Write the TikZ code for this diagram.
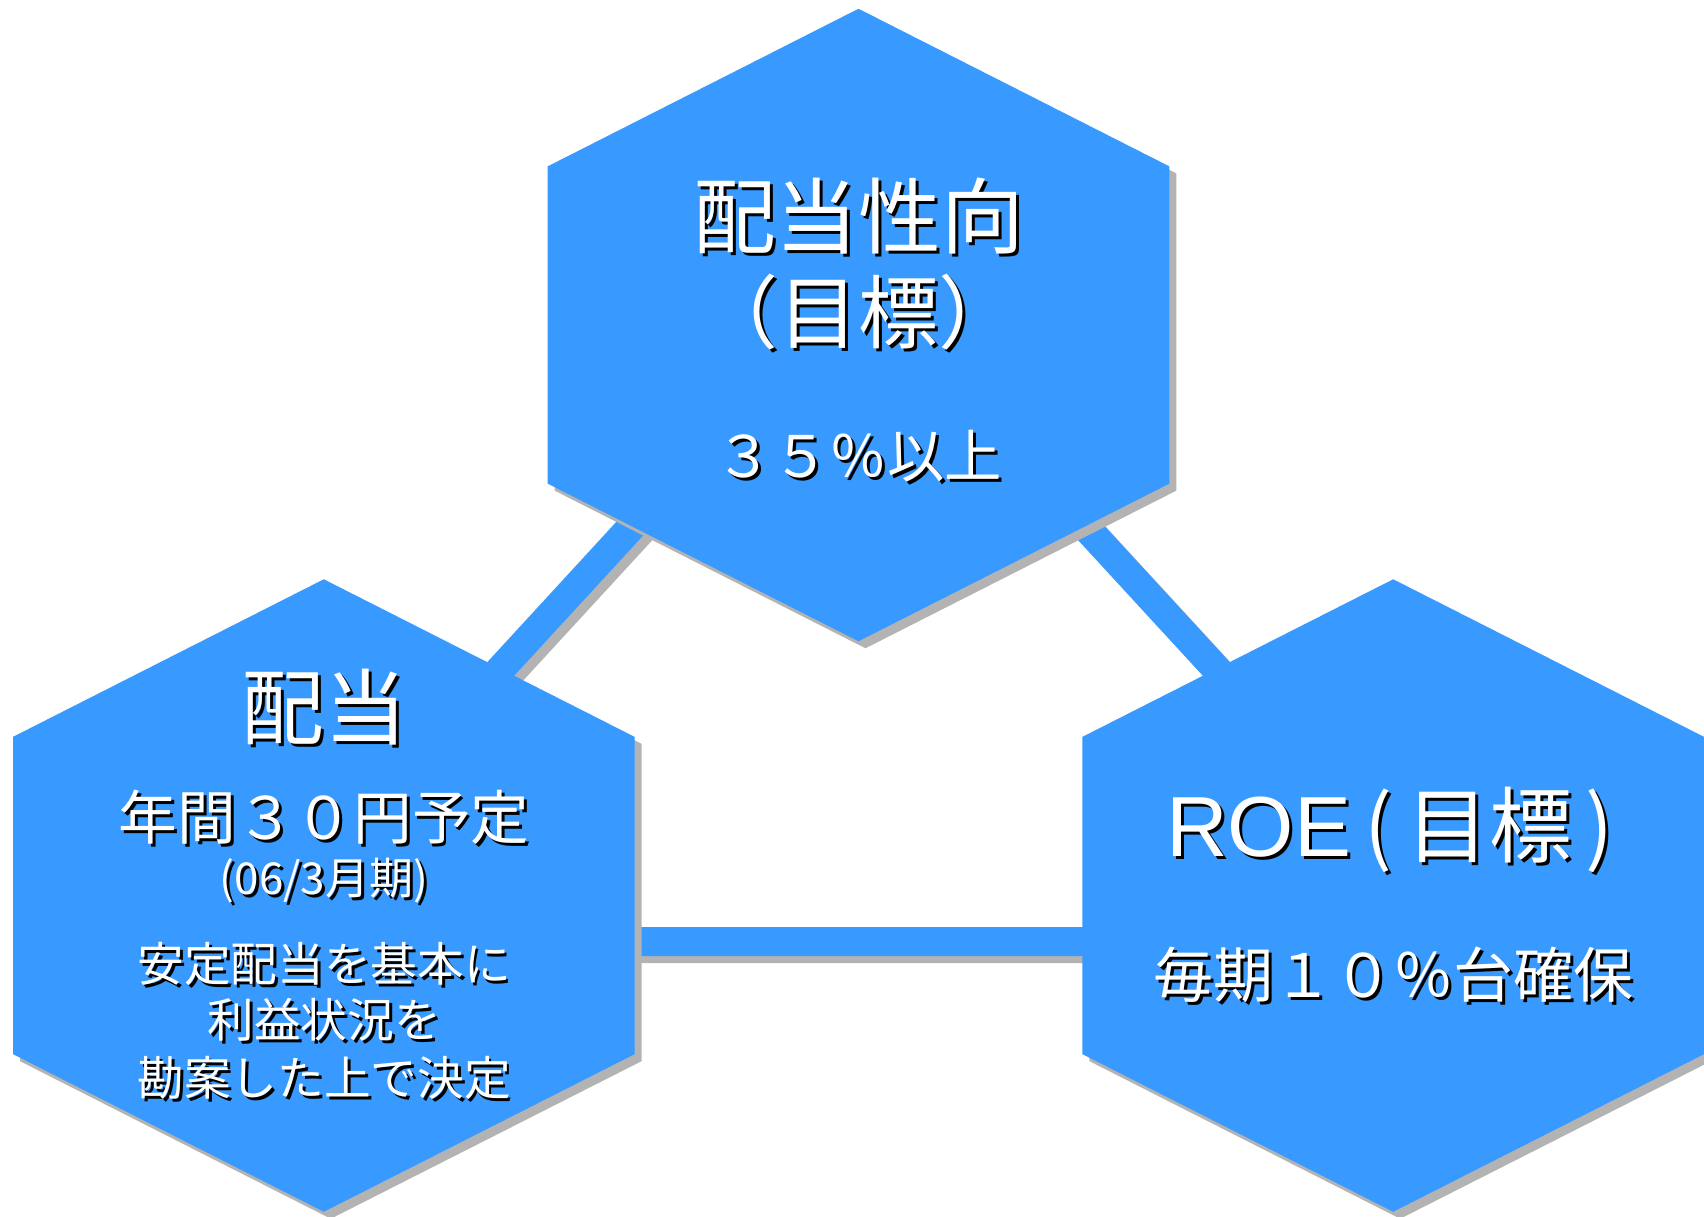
\documentclass[tikz,border=0pt]{standalone}
\usepackage{fontspec}
\setmainfont{Noto Sans CJK JP}
\newfontfamily\roefont{Liberation Sans}
\usetikzlibrary{calc}
\definecolor{hexblue}{HTML}{3899FF}
\definecolor{shgray}{HTML}{B3B3B3}
\tikzset{
  hexfill/.style={fill=hexblue, draw=none},
  hexshadow/.style={fill=shgray, draw=none},
  bar/.style={line width=21.75pt, draw=hexblue},
  barshadow/.style={line width=21.75pt, draw=shgray},
  txt/.style={text=white, inner sep=0pt, anchor=center},
  txtsh/.style={text=black, inner sep=0pt, anchor=center, xshift=2.25pt, yshift=-2.25pt},
  fs/.style={font=\fontsize{#1}{#1}\selectfont},
}
\newcommand\hexpath[2]{(#1,#2-316.25) -- (#1+310.8,#2-158.65) -- (#1+310.8,#2+158.65) -- (#1,#2+316.25) -- (#1-310.8,#2+158.65) -- (#1-310.8,#2-158.65) -- cycle}
\newcommand\stxt[5]{%
  \node[txtsh, fs=#4] (#1sh) at (#2,#3) {#5};
  \node[txt, fs=#4] (#1) at (#2,#3) {#5};}
\begin{document}
\begin{tikzpicture}[x=0.75pt, y=-0.75pt]
\useasboundingbox (0,0) rectangle (1704,1217);
% centres of the hexagons
\coordinate (topc) at (858.5,325);
\coordinate (leftc) at (323.8,895.5);
\coordinate (rightc) at (1393.2,895.5);
% triangle corners of the connecting bars
\coordinate (tv) at (858.5,280);
\coordinate (lv) at (250,941.5);
\coordinate (rv) at (1467,941.5);
% bars
\draw[barshadow] ([shift={(7,7)}]lv) -- ([shift={(7,7)}]tv) -- ([shift={(7,7)}]rv) -- cycle;
\draw[bar] (lv) -- (tv) -- (rv) -- cycle;
% hexagon shadows
\fill[hexshadow, shift={(7,7)}] \hexpath{858.5}{325};
\fill[hexshadow, shift={(7,7)}] \hexpath{323.8}{895.5};
\fill[hexshadow, shift={(7,7)}] \hexpath{1393.2}{895.5};
% hexagons
\fill[hexfill] \hexpath{858.5}{325};
\fill[hexfill] \hexpath{323.8}{895.5};
\fill[hexfill] \hexpath{1393.2}{895.5};
% top texts
\stxt{t1}{858.5}{216}{62}{配当性向}
\stxt{t2}{858.5}{312}{60}{（目標）}
\stxt{t3}{858.5}{456}{43}{３５％以上}
% left texts
\stxt{l1}{324}{707}{62}{配当}
\stxt{l2}{324}{817}{44}{年間３０円予定}
\stxt{l3}{324}{881}{33}{(06/3月期)}
\stxt{l4}{324}{964}{35}{安定配当を基本に}
\stxt{l5}{324}{1020}{35}{利益状況を}
\stxt{l6}{324}{1078}{35}{勘案した上で決定}
% right texts
\stxt{r1}{1390}{830}{62}{{\fontsize{64}{64}\selectfont\roefont ROE}\,(\,目標\,)}
\stxt{r2}{1393}{975}{45}{毎期１０％台確保}
\end{tikzpicture}
\end{document}
